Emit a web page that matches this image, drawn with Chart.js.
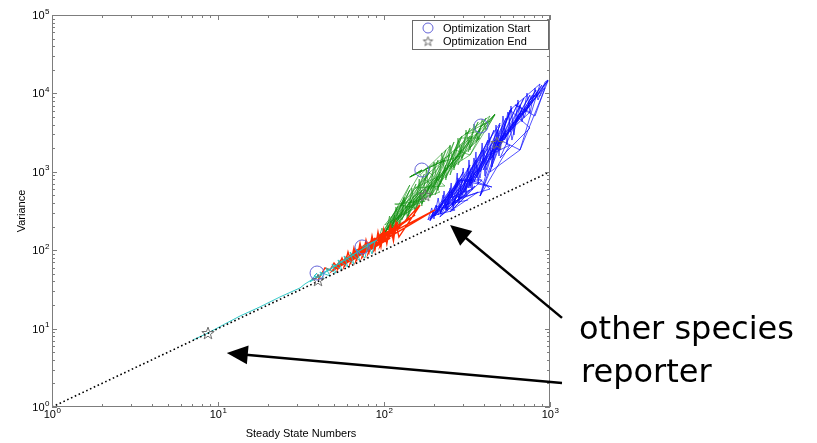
<!DOCTYPE html>
<html>
<head>
<meta charset="utf-8">
<script src="https://cdn.jsdelivr.net/npm/chart.js@4.4.0/dist/chart.umd.min.js"></script>
<style>
  html, body { margin: 0; padding: 0; background: #fff; }
  #wrap { position: relative; width: 817px; height: 443px; }
  #chart { position: absolute; left: 0; top: 0; }
  .note { position: absolute; font-family: "DejaVu Sans", Verdana, sans-serif; font-size: 32px; line-height: 32px; color: #000; white-space: nowrap; }
</style>
</head>
<body>
<div id="wrap">
  <canvas id="chart" width="817" height="443"></canvas>
  <div class="note" style="left:579px; top:312px;">other species</div>
  <div class="note" style="left:581px; top:355px;">reporter</div>
</div>
<script>
// log-log optimisation trajectories (steady state numbers vs variance)
const xExp = ['0', '1', '2', '3'];
const yExp = ['0', '1', '2', '3', '4', '5'];
const xTitle = 'Steady State Numbers';
const yTitle = 'Variance';
const legendLabels = ['Optimization Start', 'Optimization End'];

const diagX = [1, 1000];
const diagY = [1, 1000];

// reporter run
const cyanX = [73.7, 88.3, 84.7, 80.1, 76.8, 67.7, 71.7, 62.4, 65.9, 57.4, 60.7, 52.8, 55.8, 48.6, 51.4, 44.7, 47.3, 41.1, 43.5, 37.9,
  39.5, 35.8, 90.8, 33.4, 31.2, 23.6, 17.9, 13.6, 11.0, 8.71, 7.07];
const cyanY = [110, 131, 89.5, 120, 79.6, 104, 72.8, 94.8, 66.7, 84.4, 61.1, 75.0, 55.9, 66.7, 51.2, 59.3, 46.9, 52.7, 42.9, 46.9,
  51.2, 39.3, 135, 37.1, 33.0, 25.3, 18.9, 14.5, 11.45, 8.79, 7.16];

const redX = [40.0, 44.1, 47.3, 50.0, 52.8, 55.8, 58.2, 60.7, 63.3, 65.9, 68.7, 71.7, 74.7, 77.9, 81.3, 84.7, 88.3, 92.0, 95.9, 99.6,
  104, 109, 114, 118, 123, 165, 116, 121, 112, 116, 102, 108, 94.6, 98.6, 87.1, 90.8, 80.1, 83.6, 73.7, 76.8,
  67.7, 70.7, 62.4, 65.1, 57.4, 59.8, 52.8, 55.1, 48.6, 203, 102, 154, 73.7,
  50.7, 71.7, 55.8, 80.1, 60.7, 88.3, 65.9, 94.6, 71.7, 102, 77.9, 112, 84.7, 121, 92.0, 118, 82.4, 109, 73.7, 99.6,
  67.7, 92.0, 62.4, 84.7, 57.4, 77.9, 52.8, 71.7];
const redY = [41.7, 59.3, 55.9, 68.7, 59.3, 79.5, 64.8, 95.2, 70.7, 107, 77.2, 123, 84.4, 135, 94.8, 152, 101, 171, 110, 186,
  120, 204, 131, 223, 147, 377, 171, 229, 143, 204, 127, 181, 113, 166, 101, 143, 89.5, 131, 81.9, 116,
  72.8, 104, 66.7, 92.2, 61.1, 84.4, 57.6, 75.0, 54.3, 326, 152, 281, 110,
  59.3, 107, 66.7, 127, 75.0, 143, 84.4, 156, 89.5, 181, 101, 192, 107, 216, 120, 171, 101, 143, 89.5, 135,
  79.6, 127, 70.7, 116, 64.8, 107, 61.1, 94.8];

// green runs
const greenX1 = [169, 143, 233, 189, 92.0, 97.3, 101, 108, 112, 118, 125, 132, 139, 147, 154, 163, 169, 180, 189, 200,
  212, 223, 236, 250, 264, 279, 295, 312, 330, 348, 369, 390, 412, 466, 423, 358, 379, 321, 339, 279,
  295, 250, 268, 217, 236, 194, 217, 177, 189, 156, 169, 136, 147, 122, 132, 109, 116, 98.6, 177];
const greenY1 = [1054, 858, 1415, 994, 135, 192, 143, 273, 171, 356, 204, 477, 243, 621, 298, 809, 366, 1054, 463, 1334,
  586, 1740, 786, 2200, 1054, 2690, 1415, 3410, 1900, 4070, 2540, 4720, 3410, 5460, 4070, 2400, 3620, 1790, 2860, 1220,
  2200, 910, 1900, 679, 1220, 506, 994, 437, 679, 326, 586, 243, 437, 210, 377, 171, 281, 147, 506];
const greenX2 = [169, 143, 233, 92.0, 122, 98.6, 132, 109, 143, 118, 156, 128, 175, 139, 189, 154, 212, 169, 236, 189,
  264, 212, 295, 236, 330, 264, 369, 295, 412, 330, 466, 358, 268, 330, 236, 295, 212, 264, 189, 236,
  165, 212, 147, 184, 132, 165, 118, 147, 106, 132, 97.3, 116, 177];
const greenY2 = [1054, 858, 1415, 135, 366, 152, 463, 181, 586, 216, 699, 243, 937, 273, 1118, 326, 1415, 388, 1900, 491,
  2400, 621, 2860, 834, 3620, 1118, 4320, 1500, 4860, 2015, 5460, 2950, 1415, 2540, 1054, 1900, 786, 1415, 586, 1118,
  437, 884, 346, 659, 281, 506, 229, 437, 181, 326, 152, 243, 506];
const greenX3 = [94.6, 143, 109, 165, 125, 189, 143, 217, 165, 250, 189, 287, 217, 330, 250, 379, 287, 435, 330, 466,
  379, 435, 308, 379, 268, 330, 233, 287, 203, 250, 177, 233, 154, 203, 134, 177, 116, 154, 101, 134,
  97.3, 169, 143, 233, 177];
const greenY3 = [143, 679, 181, 552, 366, 994, 400, 552, 910, 2140, 477, 1590, 1295, 2860, 1150, 2700, 2700, 5150, 1640, 5300,
  3720, 4450, 3040, 3310, 1900, 1640, 1020, 2700, 506, 1640, 1085, 659, 621, 834, 346, 424, 388, 346, 210, 437,
  143, 1054, 858, 1415, 506];

// blue runs
const blueX1 = [184, 194, 200, 212, 220, 230, 240, 254, 261, 276, 283, 300, 312, 325, 339, 358, 369, 390, 406, 429,
  447, 473, 493, 521, 551, 582, 607, 641, 679, 727, 758, 812, 847, 933, 973, 871, 769, 697, 660, 590,
  558, 500, 486, 454, 466, 412, 400, 379, 348, 330, 321, 295, 279, 268, 250, 236, 227, 212, 206, 189];
const blueY1 = [243, 346, 250, 463, 289, 569, 317, 720, 346, 965, 400, 1118, 491, 1415, 586, 1790, 699, 2330, 884, 3130,
  1150, 3950, 1590, 5150, 2200, 6910, 2950, 8240, 4320, 10100, 5620, 11700, 8240, 13960, 14800, 9260, 9260, 4860, 7120, 2540,
  5790, 1900, 3410, 1415, 2540, 1054, 1900, 834, 1500, 621, 1118, 506, 834, 400, 621, 326, 506, 281, 377, 243];
const blueX2 = [184, 250, 203, 279, 217, 300, 233, 330, 257, 358, 279, 390, 300, 423, 321, 460, 348, 500, 379, 544,
  412, 590, 447, 642, 486, 697, 529, 758, 574, 823, 624, 895, 679, 973, 707, 871, 615, 779, 536, 679,
  479, 607, 435, 544, 395, 486, 358, 435, 330, 400, 304, 363, 279, 330, 257, 300, 236, 272, 217, 250,
  200, 230, 189, 466, 500];
const blueY2 = [243, 586, 273, 786, 298, 994, 346, 1220, 377, 1415, 463, 1900, 552, 2540, 621, 3410, 741, 3950, 994, 4860,
  1220, 6510, 1500, 7550, 2015, 8740, 2540, 9540, 3215, 11000, 4320, 12800, 5300, 14800, 5790, 10400, 3950, 8240, 2690, 6140,
  1900, 4320, 1415, 3410, 1054, 2540, 834, 2015, 659, 1500, 552, 1220, 437, 994, 366, 786, 326, 659, 289, 552,
  273, 437, 243, 2540, 1900];
const blueX3 = [189, 287, 217, 330, 250, 379, 287, 435, 330, 500, 379, 574, 435, 660, 500, 758, 574, 871, 660, 973,
  758, 933, 812, 615, 758, 500, 660, 435, 574, 379, 536, 330, 447, 287, 390, 250, 339, 217, 295, 194,
  268, 206, 189, 203, 279, 223, 308, 240, 353, 257, 369, 233, 321];
const blueY3 = [250, 786, 265, 586, 463, 1118, 463, 603, 1054, 4190, 491, 2200, 1640, 5620, 1500, 3620, 6140, 13200, 1900, 14400,
  8240, 11700, 5150, 7120, 5790, 2540, 1900, 994, 6140, 491, 3130, 786, 640, 786, 786, 307, 834, 307, 834, 273,
  326, 366, 236, 289, 491, 281, 506, 346, 659, 326, 552, 377, 437];

const startX = [39.5, 73.7, 169, 384];
const startY = [51.2, 110, 1054, 3840];
const endX = [8.7, 40.0, 177, 480];
const endY = [8.8, 41.7, 506, 2330];

// annotation arrows: [tailX, tailY, tipX, tipY] in data units
const arrowOther = [1181, 13.7, 250, 210];
const arrowReporter = [1181, 2.02, 11.3, 4.88];

const pts = (xs, ys) => xs.map((x, i) => ({ x, y: ys[i] }));

function makeStar(r, color){
  const s = Math.ceil(r * 2 + 3);
  const c = document.createElement('canvas');
  c.width = c.height = s;
  const g = c.getContext('2d');
  g.strokeStyle = color;
  g.lineWidth = 1;
  g.beginPath();
  for(let i = 0; i < 10; i++){
    const rad = i % 2 ? r * 0.4 : r;
    const a = -Math.PI / 2 + i * Math.PI / 5;
    const px = s / 2 + rad * Math.cos(a), py = s / 2 + rad * Math.sin(a) + 0.6;
    if(i) g.lineTo(px, py); else g.moveTo(px, py);
  }
  g.closePath();
  g.stroke();
  return c;
}
const starBig = makeStar(6.5, '#6e6e6e');
const starSmall = makeStar(5, '#6e6e6e');

function drawArrow(ctx, x0, y0, x1, y1){
  const dx = x1 - x0, dy = y1 - y0, len = Math.hypot(dx, dy);
  const ux = dx / len, uy = dy / len, head = 21, hw = 9.5;
  const bx = x1 - ux * head, by = y1 - uy * head;
  ctx.strokeStyle = '#000';
  ctx.lineWidth = 2.5;
  ctx.beginPath(); ctx.moveTo(x0, y0); ctx.lineTo(bx + ux * 2, by + uy * 2); ctx.stroke();
  ctx.fillStyle = '#000';
  ctx.beginPath();
  ctx.moveTo(x1, y1);
  ctx.lineTo(bx - uy * hw, by + ux * hw);
  ctx.lineTo(bx + uy * hw, by - ux * hw);
  ctx.closePath(); ctx.fill();
}

const frame = {
  id: 'frame',
  afterDraw(chart){
    const ctx = chart.ctx, a = chart.chartArea;
    const xs = chart.scales.x, ys = chart.scales.y;
    const L = a.left, R = a.right, T = a.top, B = a.bottom;
    ctx.save();
    // box
    ctx.strokeStyle = '#7d7d7d';
    ctx.lineWidth = 1;
    ctx.strokeRect(L + 0.5, T + 0.5, R - L - 1, B - T - 1);
    // inward ticks
    ctx.beginPath();
    xExp.forEach((e, i) => {
      const d = Math.pow(10, +e);
      for(let m = 1; m <= 9; m++){
        if(i === xExp.length - 1 && m > 1) break;
        const px = Math.round(xs.getPixelForValue(d * m)) + 0.5, l = m === 1 ? 5 : 3;
        ctx.moveTo(px, B); ctx.lineTo(px, B - l);
        ctx.moveTo(px, T); ctx.lineTo(px, T + l);
      }
    });
    yExp.forEach((e, i) => {
      const d = Math.pow(10, +e);
      for(let m = 1; m <= 9; m++){
        if(i === yExp.length - 1 && m > 1) break;
        const py = Math.round(ys.getPixelForValue(d * m)) + 0.5, l = m === 1 ? 5 : 3;
        ctx.moveTo(L, py); ctx.lineTo(L + l, py);
        ctx.moveTo(R, py); ctx.lineTo(R - l, py);
      }
    });
    ctx.stroke();

    // tick labels 10^n
    const base = '11px "Liberation Sans", Arial, sans-serif';
    const sup = '8px "Liberation Sans", Arial, sans-serif';
    ctx.fillStyle = '#000';
    ctx.textBaseline = 'alphabetic';
    ctx.textAlign = 'left';
    xExp.forEach(e => {
      const px = xs.getPixelForValue(Math.pow(10, +e));
      ctx.font = base; const w1 = ctx.measureText('10').width;
      ctx.font = sup; const w2 = ctx.measureText(e).width;
      const x0 = px - (w1 + w2) / 2;
      ctx.font = base; ctx.fillText('10', x0, B + 11);
      ctx.font = sup; ctx.fillText(e, x0 + w1 + 0.5, B + 6);
    });
    yExp.forEach(e => {
      const py = ys.getPixelForValue(Math.pow(10, +e));
      ctx.font = base; const w1 = ctx.measureText('10').width;
      ctx.font = sup; const w2 = ctx.measureText(e).width;
      const x0 = L - 3 - w1 - w2;
      ctx.font = base; ctx.fillText('10', x0, py + 4);
      ctx.font = sup; ctx.fillText(e, x0 + w1 + 0.5, py - 1.5);
    });

    // axis titles
    ctx.font = base;
    ctx.textAlign = 'center';
    ctx.textBaseline = 'middle';
    ctx.fillText(xTitle, (L + R) / 2, B + 27);
    ctx.save();
    ctx.translate(22, (T + B) / 2);
    ctx.rotate(-Math.PI / 2);
    ctx.fillText(yTitle, 0, 0);
    ctx.restore();

    // legend
    const lx = R - 138, ly = T + 5, lw = 136, lh = 29;
    ctx.fillStyle = '#fff';
    ctx.fillRect(lx, ly, lw, lh);
    ctx.strokeStyle = '#6a6a6a';
    ctx.strokeRect(lx + 0.5, ly + 0.5, lw, lh);
    ctx.strokeStyle = '#6464d8';
    ctx.beginPath(); ctx.arc(lx + 16, ly + 8, 5, 0, Math.PI * 2); ctx.stroke();
    ctx.drawImage(starSmall, lx + 16 - starSmall.width / 2, ly + 21 - starSmall.height / 2);
    ctx.fillStyle = '#000';
    ctx.textAlign = 'left';
    ctx.fillText(legendLabels[0], lx + 31, ly + 8.5);
    ctx.fillText(legendLabels[1], lx + 31, ly + 21.5);

    // annotation arrows
    [arrowOther, arrowReporter].forEach(ar => {
      drawArrow(ctx, xs.getPixelForValue(ar[0]), ys.getPixelForValue(ar[1]),
        xs.getPixelForValue(ar[2]), ys.getPixelForValue(ar[3]));
    });
    ctx.restore();
  }
};

const line = (data, color, w) => ({ data, showLine: true, borderColor: color, borderWidth: w, pointRadius: 0, fill: false, tension: 0 });

new Chart(document.getElementById('chart'), {
  type: 'scatter',
  data: {
    datasets: [
      { label: legendLabels[0], data: pts(startX, startY), pointStyle: 'circle', pointRadius: 7, borderColor: '#6464d8', borderWidth: 1, backgroundColor: 'rgba(0,0,0,0)' },
      { label: legendLabels[1], data: pts(endX, endY), pointStyle: starBig, pointRadius: 7 },
      { data: pts(diagX, diagY), showLine: true, borderColor: '#000', borderWidth: 1.6, borderDash: [1.6, 2.6], pointRadius: 0 },
      line(pts(cyanX, cyanY), '#1cc4c4', 0.9),
      line(pts(redX, redY), '#ff2a00', 1.4),
      line(pts(greenX1, greenY1), '#109010', 0.6),
      line(pts(greenX2, greenY2), '#109010', 0.6),
      line(pts(greenX3, greenY3), '#109010', 0.6),
      line(pts(blueX1, blueY1), '#0a0aff', 0.7),
      line(pts(blueX2, blueY2), '#0a0aff', 0.7),
      line(pts(blueX3, blueY3), '#0a0aff', 0.7)
    ]
  },
  options: {
    responsive: false,
    animation: false,
    events: [],
    layout: { padding: { left: 0, right: 267, top: 15, bottom: 0 } },
    scales: {
      x: { type: 'logarithmic', min: 1, max: 1000, ticks: { display: false }, grid: { display: false }, border: { display: false }, afterFit(s){ s.height = 36; } },
      y: { type: 'logarithmic', min: 1, max: 100000, ticks: { display: false }, grid: { display: false }, border: { display: false }, afterFit(s){ s.width = 52; } }
    },
    plugins: { legend: { display: false }, tooltip: { enabled: false } }
  },
  plugins: [frame]
});
</script>
</body>
</html>
